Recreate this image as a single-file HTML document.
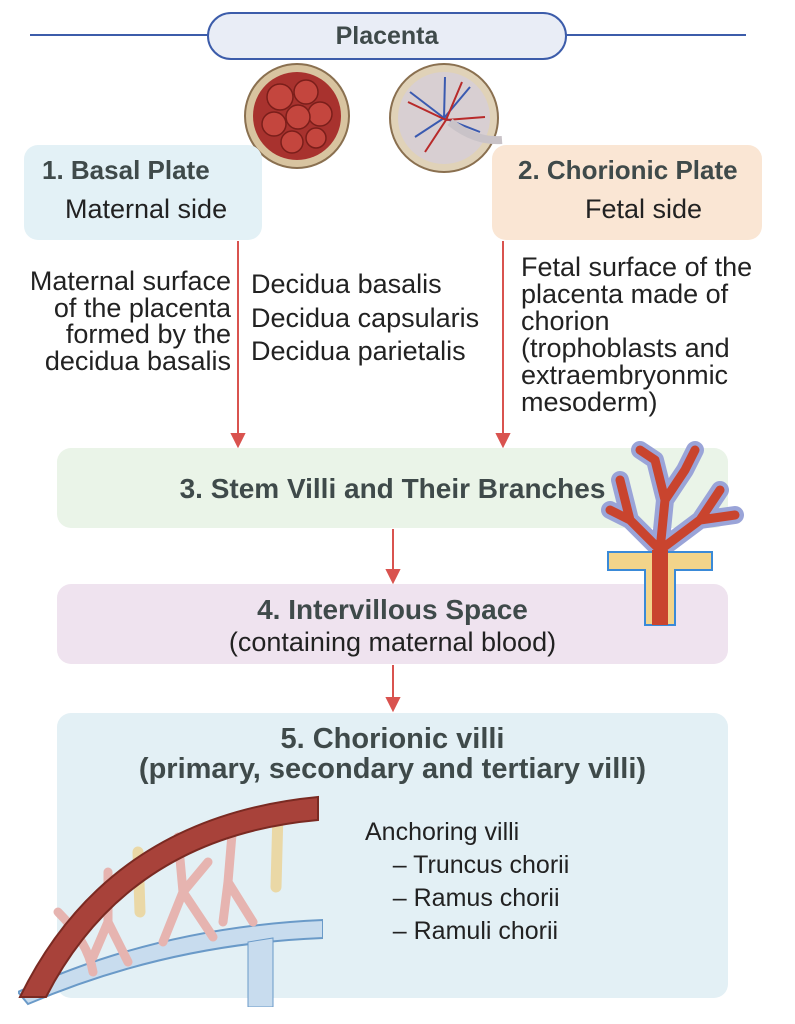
<!DOCTYPE html>
<html><head><meta charset="utf-8"><style>
body{margin:0;width:795px;height:1024px;background:#fff;position:relative;overflow:hidden;font-family:"Liberation Sans",Arial,sans-serif;color:#222}
.a{position:absolute}
.box{position:absolute;border-radius:14px}
.h{font-weight:bold;color:#3f4a4a;font-size:26px}
.t{font-size:27px;line-height:27px}
</style></head><body>
<div class="a" style="left:30px;top:34px;width:716px;height:2px;background:#3c5caa"></div>
<div class="a" style="left:207px;top:12px;width:356px;height:44px;border:2px solid #3c5caa;border-radius:24px;background:#e9edf6;text-align:center;line-height:44px" ><span class="h" style="font-size:25px">Placenta</span></div>

<svg class="a" style="left:240px;top:62px" width="270" height="115">
 <circle cx="57" cy="54" r="52" fill="#d8c4a0" stroke="#8a7050" stroke-width="2"/>
 <circle cx="57" cy="54" r="44" fill="#a8322e"/>
 <g fill="#c4463e" stroke="#7a1e1a" stroke-width="1.5">
 <circle cx="40" cy="35" r="13"/><circle cx="66" cy="30" r="12"/><circle cx="80" cy="52" r="12"/><circle cx="58" cy="55" r="12"/><circle cx="34" cy="62" r="12"/><circle cx="52" cy="80" r="11"/><circle cx="76" cy="76" r="10"/></g>
 <circle cx="204" cy="56" r="54" fill="#e0d2b8" stroke="#8a7050" stroke-width="2"/>
 <circle cx="204" cy="56" r="46" fill="#d8cfd2"/>
 <g stroke="#3a5ab0" stroke-width="2" fill="none"><path d="M204 56 L170 30 M204 56 L175 75 M204 56 L230 25 M204 56 L240 70 M204 56 L205 15"/></g>
 <g stroke="#b82a2a" stroke-width="2" fill="none"><path d="M206 58 L168 40 M206 58 L185 90 M206 58 L222 20 M206 58 L245 55"/></g>
 <path d="M210 60 Q235 80 262 78" stroke="#c9c3c8" stroke-width="8" fill="none"/>
</svg>

<div class="box" style="left:24px;top:145px;width:238px;height:95px;background:#e3f1f6"></div>
<div class="a h" style="left:42px;top:155px">1. Basal Plate</div>
<div class="a t" style="left:65px;top:196px">Maternal side</div>
<div class="box" style="left:492px;top:145px;width:270px;height:95px;background:#fae6d4"></div>
<div class="a h" style="left:518px;top:155px">2. Chorionic Plate</div>
<div class="a t" style="left:585px;top:196px">Fetal side</div>

<div class="a t" style="left:6px;top:268px;width:225px;text-align:right;white-space:nowrap;line-height:26.5px">Maternal surface<br>of the placenta<br>formed by the<br>decidua basalis</div>
<div class="a t" style="left:251px;top:268px;line-height:33.5px;white-space:nowrap">Decidua basalis<br>Decidua capsularis<br>Decidua parietalis</div>
<div class="a t" style="left:521px;top:254px;line-height:27px;white-space:nowrap">Fetal surface of the<br>placenta made of<br>chorion<br>(trophoblasts and<br>extraembryonmic<br>mesoderm)</div>

<svg class="a" style="left:0;top:0" width="795" height="1024">
 <g stroke="#d9534f" stroke-width="2" fill="#d9534f">
 <line x1="238" y1="241" x2="238" y2="436"/><path d="M232 434 L238 446 L244 434Z"/>
 <line x1="503" y1="241" x2="503" y2="436"/><path d="M497 434 L503 446 L509 434Z"/>
 <line x1="393" y1="529" x2="393" y2="572"/><path d="M387 570 L393 582 L399 570Z"/>
 <line x1="393" y1="665" x2="393" y2="700"/><path d="M387 698 L393 710 L399 698Z"/>
 </g>
</svg>

<div class="box" style="left:57px;top:448px;width:671px;height:80px;background:#eaf4e8"></div>
<div class="a h" style="left:57px;top:473px;width:671px;text-align:center;font-size:28px">3. Stem Villi and Their Branches</div>
<div class="box" style="left:57px;top:584px;width:671px;height:80px;background:#efe3ef"></div>
<div class="a h" style="left:57px;top:594px;width:671px;text-align:center;font-size:28px">4. Intervillous Space</div>
<div class="a t" style="left:57px;top:629px;width:671px;text-align:center">(containing maternal blood)</div>
<div class="box" style="left:57px;top:713px;width:671px;height:285px;background:#e3f0f5"></div>
<div class="a h" style="left:37px;top:724px;width:711px;text-align:center;line-height:30px;font-size:29px;white-space:nowrap">5. Chorionic villi<br>(primary, secondary and tertiary villi)</div>
<div class="a t" style="left:365px;top:816px;line-height:33px;white-space:nowrap;font-size:25px">Anchoring villi<br>&nbsp;&nbsp;&nbsp;&nbsp;– Truncus chorii<br>&nbsp;&nbsp;&nbsp;&nbsp;– Ramus chorii<br>&nbsp;&nbsp;&nbsp;&nbsp;– Ramuli chorii</div>

<svg class="a" style="left:600px;top:440px" width="150" height="190">
 <g fill="none" stroke-linecap="round">
 <path d="M60 150 L60 110 M60 110 L30 80 L20 40 M30 80 L10 70 M60 110 L65 60 L55 20 M65 60 L85 30 M60 110 L100 80 L120 50 M100 80 L135 75 M55 20 L40 10 M85 30 L95 10" stroke="#9aa4d8" stroke-width="18"/>
 <path d="M60 150 L60 110 M60 110 L30 80 L20 40 M30 80 L10 70 M60 110 L65 60 L55 20 M65 60 L85 30 M60 110 L100 80 L120 50 M100 80 L135 75 M55 20 L40 10 M85 30 L95 10" stroke="#c9442e" stroke-width="9"/>
 </g>
 <path d="M8 112 L112 112 L112 130 L75 130 L75 185 L45 185 L45 130 L8 130Z" fill="#f2d48a" stroke="#3a8ad8" stroke-width="2"/>
 <rect x="52" y="110" width="16" height="75" fill="#c9442e"/>
</svg>

<svg class="a" style="left:18px;top:792px" width="305" height="215">
 <path d="M0 200 Q140 135 305 128 L305 146 Q150 152 10 212Z" fill="#c8dcee" stroke="#6a9ac8" stroke-width="2"/>
 <path d="M230 150 L230 215 L255 215 L255 146Z" fill="#c8dcee" stroke="#6a9ac8"/>
 <g stroke="#e6b4b0" stroke-width="9" fill="none" stroke-linecap="round">
 <path d="M40 120 Q70 150 75 180 M90 80 L90 130 L110 170 M90 130 L75 165 M160 45 L165 100 L145 150 M165 100 L195 145 M165 100 L190 70 M215 30 L210 90 L205 130 M210 90 L235 130"/>
 </g>
 <path d="M120 60 L122 120 M260 20 L258 95" stroke="#ead8a6" stroke-width="11" stroke-linecap="round"/>
 <path d="M2 205 Q90 25 300 5 L300 28 Q110 45 28 205Z" fill="#a8423a" stroke="#7a2a22" stroke-width="2"/>
</svg>
</body></html>
